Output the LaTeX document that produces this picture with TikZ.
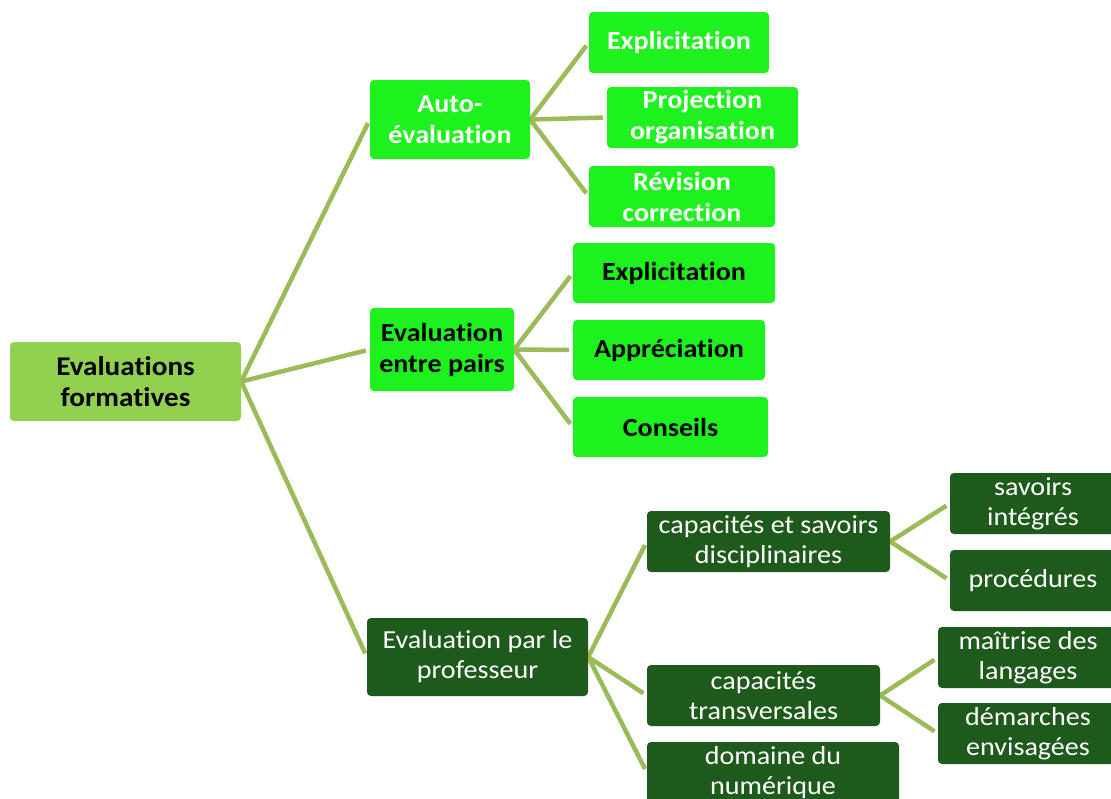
\documentclass[tikz,border=0pt]{standalone}
\usepackage{fontspec}
\setmainfont{Carlito}[FakeStretch=1.08, Ligatures=NoCommon]
\usetikzlibrary{backgrounds}
\definecolor{rootgreen}{RGB}{146,208,80}
\definecolor{brightgreen}{RGB}{30,242,30}
\definecolor{darkgreen}{RGB}{30,90,27}
\definecolor{branchline}{RGB}{155,187,89}
\tikzset{every node/.style={align=center, inner sep=2pt, rounded corners=4pt},
  rootbox/.style={fill=rootgreen, text=black, font=\bfseries\fontsize{27}{31}\selectfont},
  autobox/.style={fill=brightgreen, text=white, font=\bfseries\fontsize{26}{31}\selectfont},
  pairbox/.style={fill=brightgreen, text=black, font=\bfseries\fontsize{26}{31}\selectfont},
  profbox/.style={fill=darkgreen, text=white, font=\fontsize{26}{30}\selectfont},
  branch/.style={draw=branchline, line width=4.5pt, shorten >=4pt}}

\begin{document}
\begin{tikzpicture}[x=1pt,y=-1pt]
   \useasboundingbox (0,0) rectangle (1111,798);
   % root
   \node[rootbox, minimum width=231, minimum height=79] (root) at (125.5,381.5) {Evaluations\\formatives};
   % auto-evaluation
   \node[autobox, minimum width=160, minimum height=79] (auto) at (450,119.5) {Auto-\\évaluation};
   \node[autobox, minimum width=180, minimum height=61] (auto1) at (679,42.5) {Explicitation};
   \node[autobox, minimum width=191, minimum height=61] (auto2) at (702.5,117.5) {Projection\\organisation};
   \node[autobox, minimum width=186, minimum height=61] (auto3) at (682,196.5) {Révision\\correction};
   % entre pairs
   \node[pairbox, minimum width=144, minimum height=83] (pairs) at (442,349.5) {Evaluation\\entre pairs};
   \node[pairbox, minimum width=202, minimum height=60] (pairs1) at (674,273) {Explicitation};
   \node[pairbox, minimum width=192, minimum height=60] (pairs2) at (669,350) {Appréciation};
   \node[pairbox, minimum width=195, minimum height=60] (pairs3) at (670.5,427) {Conseils};
   % professeur
   \node[profbox, minimum width=221, minimum height=78] (prof) at (477.5,657) {Evaluation par le\\professeur};
   \node[profbox, minimum width=243, minimum height=61] (disc) at (768.5,541.5) {capacités et savoirs\\disciplinaires};
   \node[profbox, minimum width=233, minimum height=61] (trans) at (763.5,695.5) {capacités\\transversales};
   \node[profbox, minimum width=252, minimum height=61] (numer) at (773,772.5) {domaine du\\numérique};
   \node[profbox, minimum width=166, minimum height=61] (disc1) at (1033,503.5) {savoirs\\intégrés};
   \node[profbox, minimum width=166, minimum height=61] (disc2) at (1033,580.5) {procédures};
   \node[profbox, minimum width=180, minimum height=61] (trans1) at (1028,657.5) {maîtrise des\\langages};
   \node[profbox, minimum width=180, minimum height=61] (trans2) at (1028,733.5) {démarches\\envisagées};
   \begin{scope}[on background layer]
    \draw[branch] (root.east) -- (auto.west);
    \draw[branch] (root.east) -- (pairs.west);
    \draw[branch] (root.east) -- (prof.west);
    \foreach \c in {auto1,auto2,auto3} \draw[branch] (auto.east) -- (\c.west);
    \foreach \c in {pairs1,pairs2,pairs3} \draw[branch] (pairs.east) -- (\c.west);
    \foreach \c in {disc,trans,numer} \draw[branch] (prof.east) -- (\c.west);
    \foreach \c in {disc1,disc2} \draw[branch] (disc.east) -- (\c.west);
    \foreach \c in {trans1,trans2} \draw[branch] (trans.east) -- (\c.west);
   \end{scope}
  \end{tikzpicture}
\end{document}
